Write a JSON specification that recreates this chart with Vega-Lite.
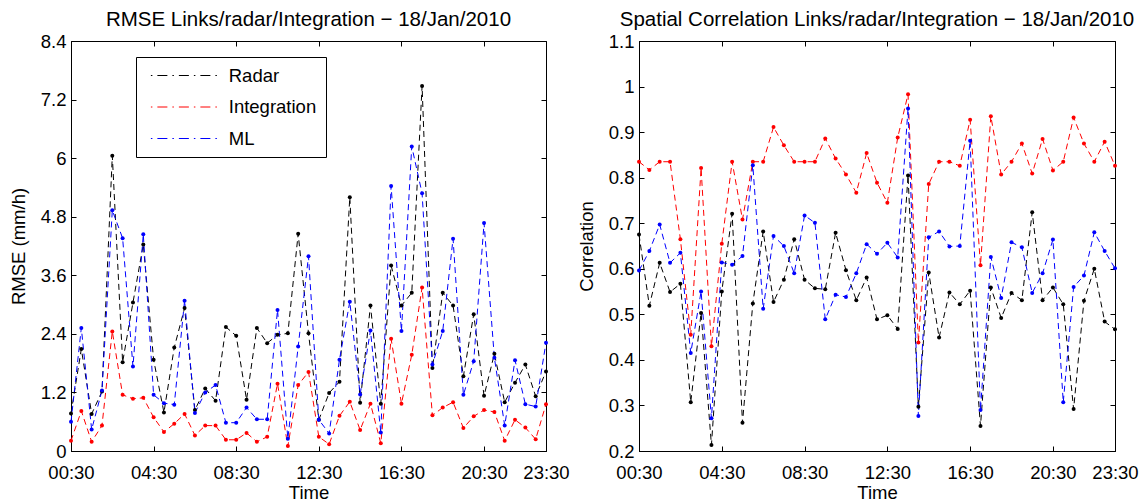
{
  "$schema": "https://vega.github.io/schema/vega-lite/v6.json",
  "background": "white",
  "padding": {"left": 8, "top": 9, "right": 5, "bottom": 0},
  "config": {
    "font": "Liberation Sans",
    "view": {"stroke": "black", "strokeWidth": 1},
    "axis": {"grid": false, "domainColor": "black", "tickColor": "black", "labelColor": "black", "titleColor": "black", "labelFontSize": 18.5, "titleFontSize": 18.5, "titleFontWeight": "normal", "tickSize": -5, "domainWidth": 1, "tickWidth": 1},
    "axisX": {"labelPadding": 17, "titlePadding": 2},
    "axisY": {"labelPadding": 10, "titlePadding": 12},
    "title": {"fontSize": 20.5, "fontWeight": "normal", "color": "black", "frame": "group", "offset": 2}
  },
  "datasets": {
    "rmse": [
      {"time": "2010-01-18T00:30", "Radar": 0.77, "Integration": 0.21, "ML": 0.60},
      {"time": "2010-01-18T01:00", "Radar": 2.09, "Integration": 0.82, "ML": 2.52},
      {"time": "2010-01-18T01:30", "Radar": 0.76, "Integration": 0.19, "ML": 0.44},
      {"time": "2010-01-18T02:00", "Radar": 1.22, "Integration": 0.52, "ML": 1.24},
      {"time": "2010-01-18T02:30", "Radar": 6.05, "Integration": 2.45, "ML": 4.93},
      {"time": "2010-01-18T03:00", "Radar": 1.82, "Integration": 1.15, "ML": 4.36},
      {"time": "2010-01-18T03:30", "Radar": 3.04, "Integration": 1.07, "ML": 1.73},
      {"time": "2010-01-18T04:00", "Radar": 4.23, "Integration": 1.09, "ML": 4.44},
      {"time": "2010-01-18T04:30", "Radar": 1.87, "Integration": 0.69, "ML": 1.15},
      {"time": "2010-01-18T05:00", "Radar": 0.79, "Integration": 0.39, "ML": 0.98},
      {"time": "2010-01-18T05:30", "Radar": 2.12, "Integration": 0.56, "ML": 0.95},
      {"time": "2010-01-18T06:00", "Radar": 2.93, "Integration": 0.76, "ML": 3.08},
      {"time": "2010-01-18T06:30", "Radar": 0.84, "Integration": 0.32, "ML": 0.78},
      {"time": "2010-01-18T07:00", "Radar": 1.28, "Integration": 0.52, "ML": 1.20},
      {"time": "2010-01-18T07:30", "Radar": 1.03, "Integration": 0.52, "ML": 1.35},
      {"time": "2010-01-18T08:00", "Radar": 2.54, "Integration": 0.23, "ML": 0.58},
      {"time": "2010-01-18T08:30", "Radar": 2.36, "Integration": 0.23, "ML": 0.58},
      {"time": "2010-01-18T09:00", "Radar": 1.05, "Integration": 0.37, "ML": 0.89},
      {"time": "2010-01-18T09:30", "Radar": 2.52, "Integration": 0.19, "ML": 0.65},
      {"time": "2010-01-18T10:00", "Radar": 2.21, "Integration": 0.29, "ML": 0.65},
      {"time": "2010-01-18T10:30", "Radar": 2.38, "Integration": 1.38, "ML": 2.89},
      {"time": "2010-01-18T11:00", "Radar": 2.41, "Integration": 0.10, "ML": 0.25},
      {"time": "2010-01-18T11:30", "Radar": 4.45, "Integration": 1.35, "ML": 2.14},
      {"time": "2010-01-18T12:00", "Radar": 2.41, "Integration": 1.62, "ML": 3.99},
      {"time": "2010-01-18T12:30", "Radar": 0.64, "Integration": 0.29, "ML": 0.64},
      {"time": "2010-01-18T13:00", "Radar": 1.19, "Integration": 0.14, "ML": 0.36},
      {"time": "2010-01-18T13:30", "Radar": 1.42, "Integration": 0.72, "ML": 1.87},
      {"time": "2010-01-18T14:00", "Radar": 5.20, "Integration": 1.01, "ML": 3.06},
      {"time": "2010-01-18T14:30", "Radar": 0.99, "Integration": 0.43, "ML": 1.16},
      {"time": "2010-01-18T15:00", "Radar": 2.98, "Integration": 0.97, "ML": 2.47},
      {"time": "2010-01-18T15:30", "Radar": 0.97, "Integration": 0.16, "ML": 0.38},
      {"time": "2010-01-18T16:00", "Radar": 3.80, "Integration": 2.30, "ML": 5.43},
      {"time": "2010-01-18T16:30", "Radar": 2.98, "Integration": 0.97, "ML": 2.46},
      {"time": "2010-01-18T17:00", "Radar": 3.24, "Integration": 1.97, "ML": 6.24},
      {"time": "2010-01-18T17:30", "Radar": 7.48, "Integration": 3.35, "ML": 5.28},
      {"time": "2010-01-18T18:00", "Radar": 1.70, "Integration": 0.73, "ML": 1.77},
      {"time": "2010-01-18T18:30", "Radar": 3.24, "Integration": 0.89, "ML": 2.46},
      {"time": "2010-01-18T19:00", "Radar": 2.98, "Integration": 1.00, "ML": 4.35},
      {"time": "2010-01-18T19:30", "Radar": 1.53, "Integration": 0.47, "ML": 1.15},
      {"time": "2010-01-18T20:00", "Radar": 2.80, "Integration": 0.71, "ML": 1.84},
      {"time": "2010-01-18T20:30", "Radar": 1.13, "Integration": 0.84, "ML": 4.67},
      {"time": "2010-01-18T21:00", "Radar": 1.99, "Integration": 0.80, "ML": 1.91},
      {"time": "2010-01-18T21:30", "Radar": 1.00, "Integration": 0.21, "ML": 0.52},
      {"time": "2010-01-18T22:00", "Radar": 1.40, "Integration": 0.64, "ML": 1.86},
      {"time": "2010-01-18T22:30", "Radar": 1.77, "Integration": 0.48, "ML": 0.96},
      {"time": "2010-01-18T23:00", "Radar": 1.12, "Integration": 0.24, "ML": 0.91},
      {"time": "2010-01-18T23:30", "Radar": 1.63, "Integration": 0.96, "ML": 2.22}
    ],
    "corr": [
      {"time": "2010-01-18T00:30", "Radar": 0.675, "Integration": 0.835, "ML": 0.596},
      {"time": "2010-01-18T01:00", "Radar": 0.519, "Integration": 0.817, "ML": 0.639},
      {"time": "2010-01-18T01:30", "Radar": 0.613, "Integration": 0.835, "ML": 0.697},
      {"time": "2010-01-18T02:00", "Radar": 0.549, "Integration": 0.835, "ML": 0.613},
      {"time": "2010-01-18T02:30", "Radar": 0.567, "Integration": 0.665, "ML": 0.635},
      {"time": "2010-01-18T03:00", "Radar": 0.307, "Integration": 0.455, "ML": 0.415},
      {"time": "2010-01-18T03:30", "Radar": 0.503, "Integration": 0.821, "ML": 0.550},
      {"time": "2010-01-18T04:00", "Radar": 0.213, "Integration": 0.430, "ML": 0.272},
      {"time": "2010-01-18T04:30", "Radar": 0.550, "Integration": 0.655, "ML": 0.614},
      {"time": "2010-01-18T05:00", "Radar": 0.721, "Integration": 0.835, "ML": 0.609},
      {"time": "2010-01-18T05:30", "Radar": 0.262, "Integration": 0.708, "ML": 0.628},
      {"time": "2010-01-18T06:00", "Radar": 0.524, "Integration": 0.835, "ML": 0.827},
      {"time": "2010-01-18T06:30", "Radar": 0.682, "Integration": 0.835, "ML": 0.512},
      {"time": "2010-01-18T07:00", "Radar": 0.527, "Integration": 0.911, "ML": 0.672},
      {"time": "2010-01-18T07:30", "Radar": 0.576, "Integration": 0.871, "ML": 0.650},
      {"time": "2010-01-18T08:00", "Radar": 0.665, "Integration": 0.835, "ML": 0.590},
      {"time": "2010-01-18T08:30", "Radar": 0.576, "Integration": 0.835, "ML": 0.717},
      {"time": "2010-01-18T09:00", "Radar": 0.557, "Integration": 0.835, "ML": 0.701},
      {"time": "2010-01-18T09:30", "Radar": 0.555, "Integration": 0.886, "ML": 0.489},
      {"time": "2010-01-18T10:00", "Radar": 0.679, "Integration": 0.842, "ML": 0.543},
      {"time": "2010-01-18T10:30", "Radar": 0.597, "Integration": 0.807, "ML": 0.538},
      {"time": "2010-01-18T11:00", "Radar": 0.531, "Integration": 0.767, "ML": 0.590},
      {"time": "2010-01-18T11:30", "Radar": 0.581, "Integration": 0.854, "ML": 0.654},
      {"time": "2010-01-18T12:00", "Radar": 0.489, "Integration": 0.789, "ML": 0.633},
      {"time": "2010-01-18T12:30", "Radar": 0.498, "Integration": 0.745, "ML": 0.657},
      {"time": "2010-01-18T13:00", "Radar": 0.468, "Integration": 0.888, "ML": 0.625},
      {"time": "2010-01-18T13:30", "Radar": 0.805, "Integration": 0.983, "ML": 0.952},
      {"time": "2010-01-18T14:00", "Radar": 0.297, "Integration": 0.438, "ML": 0.277},
      {"time": "2010-01-18T14:30", "Radar": 0.592, "Integration": 0.786, "ML": 0.669},
      {"time": "2010-01-18T15:00", "Radar": 0.449, "Integration": 0.835, "ML": 0.682},
      {"time": "2010-01-18T15:30", "Radar": 0.548, "Integration": 0.835, "ML": 0.649},
      {"time": "2010-01-18T16:00", "Radar": 0.522, "Integration": 0.826, "ML": 0.650},
      {"time": "2010-01-18T16:30", "Radar": 0.552, "Integration": 0.927, "ML": 0.881},
      {"time": "2010-01-18T17:00", "Radar": 0.255, "Integration": 0.608, "ML": 0.290},
      {"time": "2010-01-18T17:30", "Radar": 0.559, "Integration": 0.935, "ML": 0.626},
      {"time": "2010-01-18T18:00", "Radar": 0.492, "Integration": 0.807, "ML": 0.536},
      {"time": "2010-01-18T18:30", "Radar": 0.547, "Integration": 0.835, "ML": 0.658},
      {"time": "2010-01-18T19:00", "Radar": 0.531, "Integration": 0.875, "ML": 0.647},
      {"time": "2010-01-18T19:30", "Radar": 0.724, "Integration": 0.809, "ML": 0.547},
      {"time": "2010-01-18T20:00", "Radar": 0.531, "Integration": 0.885, "ML": 0.590},
      {"time": "2010-01-18T20:30", "Radar": 0.559, "Integration": 0.816, "ML": 0.664},
      {"time": "2010-01-18T21:00", "Radar": 0.522, "Integration": 0.835, "ML": 0.307},
      {"time": "2010-01-18T21:30", "Radar": 0.292, "Integration": 0.932, "ML": 0.560},
      {"time": "2010-01-18T22:00", "Radar": 0.530, "Integration": 0.875, "ML": 0.585},
      {"time": "2010-01-18T22:30", "Radar": 0.600, "Integration": 0.835, "ML": 0.680},
      {"time": "2010-01-18T23:00", "Radar": 0.484, "Integration": 0.879, "ML": 0.639},
      {"time": "2010-01-18T23:30", "Radar": 0.467, "Integration": 0.826, "ML": 0.601}
    ]
  },
  "hconcat": [
    {
      "title": "RMSE Links/radar/Integration − 18/Jan/2010",
      "width": 475,
      "height": 410,
      "data": {"name": "rmse"},
      "transform": [{"fold": ["Radar", "Integration", "ML"], "as": ["series", "value"]}],
      "layer": [
        {
          "mark": {"type": "line", "strokeDash": [6, 4], "strokeWidth": 1},
          "encoding": {
            "x": {"field": "time", "type": "temporal", "scale": {"domain": [{"year": 2010, "month": 1, "date": 18, "hours": 0, "minutes": 30}, {"year": 2010, "month": 1, "date": 18, "hours": 23, "minutes": 30}], "nice": false},
              "axis": {"title": "Time", "format": "%H:%M", "labelFlush": false, "labelOverlap": false, "values": [{"year": 2010, "month": 1, "date": 18, "hours": 0, "minutes": 30}, {"year": 2010, "month": 1, "date": 18, "hours": 4, "minutes": 30}, {"year": 2010, "month": 1, "date": 18, "hours": 8, "minutes": 30}, {"year": 2010, "month": 1, "date": 18, "hours": 12, "minutes": 30}, {"year": 2010, "month": 1, "date": 18, "hours": 16, "minutes": 30}, {"year": 2010, "month": 1, "date": 18, "hours": 20, "minutes": 30}, {"year": 2010, "month": 1, "date": 18, "hours": 23, "minutes": 30}]}},
            "y": {"field": "value", "type": "quantitative", "scale": {"domain": [0, 8.4], "nice": false, "zero": false},
              "axis": {"title": "RMSE (mm/h)", "values": [0, 1.2, 2.4, 3.6, 4.8, 6, 7.2, 8.4], "labelExpr": "format(datum.value, '.1~f')", "labelFlush": false, "labelOverlap": false}},
            "color": {"field": "series", "type": "nominal", "sort": ["Radar", "Integration", "ML"],
              "scale": {"domain": ["Radar", "Integration", "ML"], "range": ["black", "red", "blue"]},
              "legend": {"title": null, "orient": "none", "legendX": 65, "legendY": 16, "direction": "vertical", "strokeColor": "black", "fillColor": "white", "padding": 9, "symbolType": "M-0.42,0H7.58", "symbolSize": 297.6, "symbolStrokeWidth": 1, "symbolDash": [1.5, 5, 10, 5], "labelFontSize": 18.5, "labelOffset": 64.75, "rowPadding": 12.5, "labelLimit": 300, "cornerRadius": 0}}
          }
        },
        {
          "mark": {"type": "point", "filled": true, "size": 16, "opacity": 1},
          "encoding": {
            "x": {"field": "time", "type": "temporal", "scale": {"domain": [{"year": 2010, "month": 1, "date": 18, "hours": 0, "minutes": 30}, {"year": 2010, "month": 1, "date": 18, "hours": 23, "minutes": 30}], "nice": false},
              "axis": {"orient": "top", "title": null, "labels": false, "domain": false, "values": [{"year": 2010, "month": 1, "date": 18, "hours": 0, "minutes": 30}, {"year": 2010, "month": 1, "date": 18, "hours": 4, "minutes": 30}, {"year": 2010, "month": 1, "date": 18, "hours": 8, "minutes": 30}, {"year": 2010, "month": 1, "date": 18, "hours": 12, "minutes": 30}, {"year": 2010, "month": 1, "date": 18, "hours": 16, "minutes": 30}, {"year": 2010, "month": 1, "date": 18, "hours": 20, "minutes": 30}, {"year": 2010, "month": 1, "date": 18, "hours": 23, "minutes": 30}]}},
            "y": {"field": "value", "type": "quantitative", "scale": {"domain": [0, 8.4], "nice": false, "zero": false},
              "axis": {"orient": "right", "title": null, "labels": false, "domain": false, "values": [0, 1.2, 2.4, 3.6, 4.8, 6, 7.2, 8.4]}},
            "color": {"field": "series", "type": "nominal"}
          }
        }
      ],
      "resolve": {"scale": {"x": "independent", "y": "independent"}, "axis": {"x": "independent", "y": "independent"}}
    },
    {
      "title": "Spatial Correlation Links/radar/Integration − 18/Jan/2010",
      "width": 476,
      "height": 410,
      "data": {"name": "corr"},
      "transform": [{"fold": ["Radar", "Integration", "ML"], "as": ["series", "value"]}],
      "layer": [
        {
          "mark": {"type": "line", "strokeDash": [6, 4], "strokeWidth": 1},
          "encoding": {
            "x": {"field": "time", "type": "temporal", "scale": {"domain": [{"year": 2010, "month": 1, "date": 18, "hours": 0, "minutes": 30}, {"year": 2010, "month": 1, "date": 18, "hours": 23, "minutes": 30}], "nice": false},
              "axis": {"title": "Time", "format": "%H:%M", "labelFlush": false, "labelOverlap": false, "values": [{"year": 2010, "month": 1, "date": 18, "hours": 0, "minutes": 30}, {"year": 2010, "month": 1, "date": 18, "hours": 4, "minutes": 30}, {"year": 2010, "month": 1, "date": 18, "hours": 8, "minutes": 30}, {"year": 2010, "month": 1, "date": 18, "hours": 12, "minutes": 30}, {"year": 2010, "month": 1, "date": 18, "hours": 16, "minutes": 30}, {"year": 2010, "month": 1, "date": 18, "hours": 20, "minutes": 30}, {"year": 2010, "month": 1, "date": 18, "hours": 23, "minutes": 30}]}},
            "y": {"field": "value", "type": "quantitative", "scale": {"domain": [0.2, 1.1], "nice": false, "zero": false},
              "axis": {"title": "Correlation", "values": [0.2, 0.3, 0.4, 0.5, 0.6, 0.7, 0.8, 0.9, 1, 1.1], "labelExpr": "format(datum.value, '.1~f')", "labelFlush": false, "labelOverlap": false}},
            "color": {"field": "series", "type": "nominal",
              "scale": {"domain": ["Radar", "Integration", "ML"], "range": ["black", "red", "blue"]},
              "legend": null}
          }
        },
        {
          "mark": {"type": "point", "filled": true, "size": 16, "opacity": 1},
          "encoding": {
            "x": {"field": "time", "type": "temporal", "scale": {"domain": [{"year": 2010, "month": 1, "date": 18, "hours": 0, "minutes": 30}, {"year": 2010, "month": 1, "date": 18, "hours": 23, "minutes": 30}], "nice": false},
              "axis": {"orient": "top", "title": null, "labels": false, "domain": false, "values": [{"year": 2010, "month": 1, "date": 18, "hours": 0, "minutes": 30}, {"year": 2010, "month": 1, "date": 18, "hours": 4, "minutes": 30}, {"year": 2010, "month": 1, "date": 18, "hours": 8, "minutes": 30}, {"year": 2010, "month": 1, "date": 18, "hours": 12, "minutes": 30}, {"year": 2010, "month": 1, "date": 18, "hours": 16, "minutes": 30}, {"year": 2010, "month": 1, "date": 18, "hours": 20, "minutes": 30}, {"year": 2010, "month": 1, "date": 18, "hours": 23, "minutes": 30}]}},
            "y": {"field": "value", "type": "quantitative", "scale": {"domain": [0.2, 1.1], "nice": false, "zero": false},
              "axis": {"orient": "right", "title": null, "labels": false, "domain": false, "values": [0.2, 0.3, 0.4, 0.5, 0.6, 0.7, 0.8, 0.9, 1, 1.1]}},
            "color": {"field": "series", "type": "nominal", "legend": null}
          }
        }
      ],
      "resolve": {"scale": {"x": "independent", "y": "independent"}, "axis": {"x": "independent", "y": "independent"}}
    }
  ],
  "bounds": "flush",
  "spacing": 93,
  "resolve": {"scale": {"color": "independent"}, "legend": {"color": "independent"}}
}
